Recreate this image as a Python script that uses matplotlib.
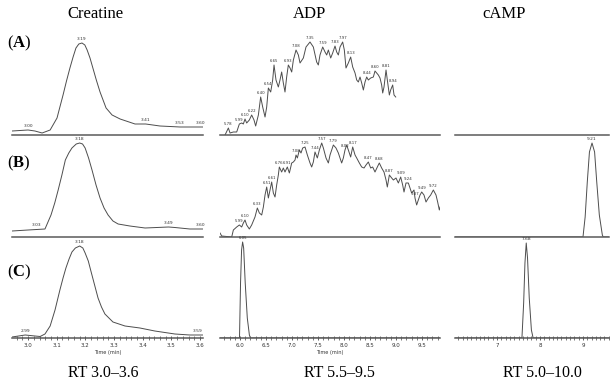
import numpy as np
import matplotlib
matplotlib.use("Agg")
from matplotlib import pyplot as plt
from matplotlib.ticker import MultipleLocator, FormatStrFormatter

plt.rc('font', family='Liberation Serif')
plt.rc('mathtext', fontset='custom', rm='Liberation Serif', bf='Liberation Serif:bold')

# ---- data (time in min, height in % of panel) ----

# Creatine
creatine_a_t = [2.944, 3.000, 3.024, 3.049, 3.077, 3.101, 3.111, 3.122, 3.134, 3.146, 3.157, 3.167,
                3.177, 3.188, 3.198, 3.206, 3.216, 3.226, 3.238, 3.251, 3.272, 3.293, 3.321,
                3.373, 3.41, 3.460, 3.53, 3.564, 3.610]
creatine_a_h = [4, 5, 4, 2, 5, 17, 28, 40, 54, 67, 78, 87, 91, 92, 90, 85, 77, 67, 55, 43, 27, 20,
                16, 11, 11, 9, 8, 8, 8]
creatine_a_lab = [3.00, 3.188, 3.41, 3.53, 3.60]

creatine_b_t = [2.944, 3.00, 3.03, 3.059, 3.08, 3.093, 3.105, 3.118, 3.13, 3.142, 3.153, 3.168,
                3.18, 3.19, 3.199, 3.211, 3.223, 3.237, 3.251, 3.265, 3.279, 3.296, 3.314, 3.355,
                3.408, 3.49, 3.512, 3.564, 3.61]
creatine_b_h = [6, 7, 7.5, 8, 22, 34, 47, 62, 77, 84, 89, 93, 94, 93, 89, 79, 67, 52, 39, 29, 22,
                16, 13, 11, 9, 10, 9.5, 8, 8]
creatine_b_lab = [3.03, 3.18, 3.49, 3.60]

creatine_c_t = [2.944, 2.99, 3.024, 3.042, 3.059, 3.077, 3.094, 3.111, 3.122, 3.132, 3.143, 3.153,
                3.165, 3.18, 3.191, 3.199, 3.210, 3.220, 3.232, 3.244, 3.256, 3.268, 3.296, 3.338,
                3.39, 3.442, 3.512, 3.564, 3.61]
creatine_c_h = [1, 3, 2, 1.5, 4, 12, 28, 48, 60, 70, 79, 86, 90, 92, 90, 85, 77, 66, 53, 40, 31, 24,
                16, 12, 10, 7, 4, 3, 3]
creatine_c_lab = [2.99, 3.18, 3.59]

# ADP
adp_a_t = [5.712, 5.776, 5.808, 5.872, 5.936, 5.987, 6.032, 6.064, 6.096, 6.128, 6.179, 6.224,
           6.269, 6.301, 6.353, 6.397, 6.436, 6.481, 6.513, 6.545, 6.590, 6.628, 6.654, 6.692,
           6.737, 6.769, 6.801, 6.833, 6.865, 6.897, 6.929, 6.962, 6.994, 7.026, 7.077, 7.122,
           7.154, 7.218, 7.269, 7.346, 7.410, 7.474, 7.506, 7.538, 7.590, 7.635, 7.667, 7.699,
           7.744, 7.782, 7.827, 7.859, 7.891, 7.923, 7.974, 8.006, 8.038, 8.083, 8.128, 8.167,
           8.212, 8.244, 8.276, 8.308, 8.340, 8.372, 8.404, 8.436, 8.468, 8.513, 8.564, 8.596,
           8.660, 8.692, 8.724, 8.744, 8.769, 8.808, 8.833, 8.872, 8.897, 8.936, 8.962, 8.994]
adp_a_h = [0, 7, 2, 3, 3, 11, 12, 11, 16, 12, 15, 20, 15, 9, 20, 38, 28, 18, 28, 47, 43, 55, 70,
           55, 48, 55, 63, 52, 43, 58, 70, 67, 63, 75, 85, 80, 72, 77, 88, 93, 88, 73, 70, 80, 88,
           83, 80, 85, 77, 82, 89, 83, 80, 88, 93, 85, 67, 72, 78, 68, 62, 55, 53, 58, 52, 45,
           53, 58, 55, 57, 58, 64, 60, 57, 50, 42, 48, 65, 55, 40, 45, 50, 40, 38]
adp_a_lab = [5.776, 5.987, 6.096, 6.224, 6.397, 6.545, 6.654, 6.929, 7.077, 7.346, 7.590, 7.827,
             7.974, 8.128, 8.436, 8.596, 8.808, 8.936]

adp_b_t = [5.615, 5.648, 5.840, 5.872, 5.936, 5.987, 6.032, 6.064, 6.096, 6.128, 6.179, 6.224,
           6.288, 6.333, 6.372, 6.417, 6.449, 6.481, 6.513, 6.545, 6.577, 6.609, 6.641, 6.673,
           6.705, 6.737, 6.756, 6.801, 6.833, 6.865, 6.910, 6.949, 6.994, 7.026, 7.058, 7.077,
           7.103, 7.141, 7.173, 7.205, 7.250, 7.295, 7.346, 7.378, 7.410, 7.442, 7.487, 7.526,
           7.571, 7.603, 7.654, 7.699, 7.731, 7.763, 7.795, 7.846, 7.891, 7.923, 7.955, 7.987,
           8.019, 8.051, 8.096, 8.128, 8.167, 8.212, 8.244, 8.295, 8.340, 8.385, 8.423, 8.468,
           8.513, 8.551, 8.596, 8.641, 8.679, 8.724, 8.769, 8.808, 8.833, 8.872, 8.917, 8.949,
           9.000, 9.045, 9.090, 9.128, 9.154, 9.192, 9.237, 9.269, 9.301, 9.346, 9.365, 9.397,
           9.429, 9.462, 9.494, 9.538, 9.577, 9.622, 9.667, 9.718, 9.769, 9.801, 9.833, 9.859]
adp_b_h = [4, 1, 0, 7, 10, 12, 10, 14, 17, 12, 8, 12, 20, 29, 24, 22, 30, 42, 50, 39, 47, 55, 44,
           40, 52, 62, 70, 65, 69, 65, 70, 64, 74, 75, 77, 82, 79, 87, 84, 89, 90, 82, 74, 70, 75,
           85, 79, 87, 94, 89, 79, 74, 82, 87, 92, 89, 84, 79, 74, 79, 87, 92, 85, 80, 90, 82,
           79, 74, 70, 69, 72, 75, 69, 70, 65, 70, 74, 69, 65, 57, 50, 62, 59, 57, 59, 54, 60,
           52, 45, 54, 54, 49, 44, 47, 39, 32, 37, 42, 45, 42, 35, 39, 42, 47, 42, 35, 27, 32]
adp_b_lab = [5.987, 6.096, 6.333, 6.513, 6.609, 6.756, 6.910, 7.077, 7.250, 7.442, 7.571,
             7.795, 8.019, 8.167, 8.468, 8.679, 8.872, 9.090, 9.237, 9.365, 9.494, 9.718]

adp_c_t = [5.615, 5.99, 6.01, 6.03, 6.05, 6.07, 6.10, 6.14, 6.18, 6.20, 9.846]
adp_c_h = [0, 0, 55, 88, 96, 90, 55, 20, 3, 0, 0]
adp_c_lab = [6.05]

# cAMP
camp_b_t = [6.02, 9.00, 9.05, 9.10, 9.15, 9.21, 9.27, 9.32, 9.38, 9.45, 9.47, 9.60]
camp_b_h = [0, 0, 20, 55, 85, 94, 85, 55, 22, 2, 0, 0]
camp_b_lab = [9.21]

camp_c_t = [6.02, 7.58, 7.62, 7.65, 7.68, 7.71, 7.75, 7.80, 7.84, 9.60]
camp_c_h = [0, 0, 35, 75, 95, 80, 40, 8, 0, 0]
camp_c_lab = [7.68]

compounds = ['Creatine', 'ADP', 'cAMP']
rt_labels = ['RT 3.0\u20133.6', 'RT 5.5\u20139.5', 'RT 5.0\u201310.0']
row_names = ['A', 'B', 'C']

# ---- layout (pixels of a 610x388 figure) ----
W, H = 610, 388
col_x = [(12, 203), (220, 440), (455, 609)]
col_lim = [(2.944, 3.610), (5.615, 9.846), (6.023, 9.605)]
row_bottom = [135, 237, 338]

traces = {
    (0, 0): (creatine_a_t, creatine_a_h, creatine_a_lab),
    (1, 0): (creatine_b_t, creatine_b_h, creatine_b_lab),
    (2, 0): (creatine_c_t, creatine_c_h, creatine_c_lab),
    (0, 1): (adp_a_t, adp_a_h, adp_a_lab),
    (1, 1): (adp_b_t, adp_b_h, adp_b_lab),
    (2, 1): (adp_c_t, adp_c_h, adp_c_lab),
    (1, 2): (camp_b_t, camp_b_h, camp_b_lab),
    (2, 2): (camp_c_t, camp_c_h, camp_c_lab),
}

line_col = '#4d4d4d'
fig = plt.figure(figsize=(W / 100, H / 100), dpi=100)

for r in range(3):
    for c in range(3):
        x0, x1 = col_x[c]
        ax = fig.add_axes([x0 / W, (H - row_bottom[r]) / H, (x1 - x0) / W, 100 / H])
        ax.set_xlim(col_lim[c])
        ax.set_ylim(0, 100)
        ax.patch.set_visible(False)
        for s in ['top', 'left', 'right']:
            ax.spines[s].set_visible(False)
        ax.spines['bottom'].set_color('#5a5a5a')
        ax.spines['bottom'].set_linewidth(1.1)
        ax.set_yticks([])
        if (r, c) in traces:
            t, h, lab = traces[(r, c)]
            ax.plot(t, h, color=line_col, linewidth=0.7)
            fs = 3.2 if c != 1 else 2.8
            for lt in lab:
                ly = np.interp(lt, t, h)
                ax.text(lt, ly + 2, f"{lt:.2f}", fontsize=fs, family='DejaVu Sans',
                        color='#333333', ha='center', va='bottom')
        if r < 2:
            ax.set_xticks([])
        else:
            if c == 0:
                ax.xaxis.set_major_locator(MultipleLocator(0.1))
                ax.xaxis.set_minor_locator(MultipleLocator(0.02))
                ax.xaxis.set_major_formatter(FormatStrFormatter('%.1f'))
            elif c == 1:
                ax.xaxis.set_major_locator(MultipleLocator(0.5))
                ax.xaxis.set_minor_locator(MultipleLocator(0.1))
                ax.xaxis.set_major_formatter(FormatStrFormatter('%.1f'))
            else:
                ax.xaxis.set_major_locator(MultipleLocator(1))
                ax.xaxis.set_minor_locator(MultipleLocator(0.1))
                ax.xaxis.set_major_formatter(FormatStrFormatter('%d'))
            ax.tick_params(axis='x', which='major', direction='inout', length=3.5, width=0.6,
                           color='#444444', labelsize=4, pad=1.5, labelcolor='#333333',
                           labelfontfamily='DejaVu Sans')
            ax.tick_params(axis='x', which='minor', direction='inout', length=2.2, width=0.5,
                           color='#444444')
            if c < 2:
                ax.set_xlabel('Time (min)', fontsize=3.6, family='DejaVu Sans',
                              color='#333333', labelpad=1.5)

# column headers and bottom labels
for c, name in enumerate(compounds):
    hx = [95, 309, 504][c]
    fig.text(hx / W, 1 - 14 / H, name, fontsize=12, ha='center', va='center')
    bx = [103, 339, 542][c]
    fig.text(bx / W, 1 - 373 / H, rt_labels[c], fontsize=11.5, ha='center', va='center')

# row letters
for r, letter in enumerate(row_names):
    ry = [43, 163, 272][r]
    fig.text(19 / W, 1 - ry / H, r'($\mathbf{%s}$)' % letter, fontsize=12,
             ha='center', va='center')

fig.savefig('out.png', dpi=100)
